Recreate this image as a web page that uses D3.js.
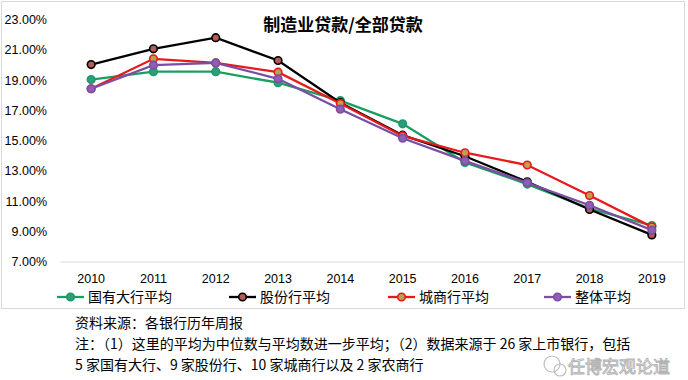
<!DOCTYPE html>
<html><head><meta charset="utf-8">
<script src="https://cdn.jsdelivr.net/npm/d3@7/dist/d3.min.js"></script>
<style>body{margin:0;background:#fff}svg{display:block}</style>
</head><body>
<svg id="c" width="688" height="380"></svg>
<script>
const years = ["2010","2011","2012","2013","2014","2015","2016","2017","2018","2019"];
const yTicks = [7,9,11,13,15,17,19,21,23];
const stateBanks = [19.03,19.55,19.55,18.82,17.64,16.1,13.55,12.12,10.5,9.38];
const jointStock = [20.02,21.06,21.8,20.29,17.5,15.35,13.96,12.27,10.44,8.76];
const cityBanks = [18.42,20.4,20.13,19.52,17.45,15.3,14.19,13.38,11.36,9.29];
const overall = [18.42,19.98,20.13,19.08,17.07,15.15,13.65,12.2,10.72,9.07];
const seriesNames = ["国有大行平均","股份行平均","城商行平均","整体平均"];
const title = "制造业贷款/全部贷款";
const notes = ["资料来源：各银行历年周报",
  "注：（1）这里的平均为中位数与平均数进一步平均；（2）数据来源于 26 家上市银行，包括",
  "5 家国有大行、9 家股份行、10 家城商行以及 2 家农商行"];
const watermark = "任博宏观论道";

const styles = [
  {stroke:"#1a9e5f", fill:"#2f9a88"},
  {stroke:"#000000", fill:"#b55a55"},
  {stroke:"#e8191a", fill:"#b9a14d"},
  {stroke:"#7b4ea3", fill:"#8f5fb5"}
];
const data = [stateBanks, jointStock, cityBanks, overall];

const svg = d3.select("#c");
const cjk = "'Noto Sans CJK SC', sans-serif";
const lat = "'Liberation Sans', Arial, sans-serif";

svg.append("rect").attr("x",1.5).attr("y",1.5).attr("width",683).attr("height",307)
  .attr("fill","#fff").attr("stroke","#d9d9d9").attr("stroke-width",1);

const x = d3.scaleBand().domain(years).range([60,683]);
const y = d3.scaleLinear().domain([7,23]).range([261.5,19.5]);

const xAxis = svg.append("g").attr("transform","translate(0,261.5)")
  .call(d3.axisBottom(x).tickSize(0).tickPadding(13));
xAxis.select(".domain").attr("stroke","#d9d9d9");
xAxis.selectAll("text").attr("font-family",lat).attr("font-size",12.5).attr("fill","#000");

const yAxis = svg.append("g").attr("transform","translate(47,0)")
  .call(d3.axisLeft(y).tickValues(yTicks).tickSize(0).tickPadding(0)
    .tickFormat(d => d3.format(".2f")(d) + "%"));
yAxis.select(".domain").remove();
yAxis.selectAll("text").attr("font-family",lat).attr("font-size",12.5).attr("fill","#000");

svg.append("text").attr("x",343).attr("y",31).attr("text-anchor","middle")
  .attr("font-family",cjk).attr("font-weight","bold").attr("font-size",17).text(title);

const line = d3.line().x((d,i)=>x(years[i])+x.bandwidth()/2).y(d=>y(d));
data.forEach((vals,k)=>{
  const g = svg.append("g");
  g.append("path").datum(vals).attr("d",line).attr("fill","none")
    .attr("stroke",styles[k].stroke).attr("stroke-width",2.3);
  g.selectAll("circle").data(vals).join("circle")
    .attr("cx",(d,i)=>x(years[i])+x.bandwidth()/2).attr("cy",d=>y(d)).attr("r",3.8)
    .attr("fill",styles[k].fill).attr("stroke",styles[k].stroke).attr("stroke-width",1.6);
});

const legX = [57, 229, 388, 544];
seriesNames.forEach((n,k)=>{
  const g = svg.append("g").attr("transform",`translate(${legX[k]},297)`);
  g.append("line").attr("x1",0).attr("x2",27).attr("stroke",styles[k].stroke).attr("stroke-width",2.3);
  g.append("circle").attr("cx",13.5).attr("r",3.8).attr("fill",styles[k].fill)
    .attr("stroke",styles[k].stroke).attr("stroke-width",1.6);
  g.append("text").attr("x",31).attr("y",5).attr("font-family",cjk).attr("font-size",14).text(n);
});

const noteY = [328, 349, 370];
notes.forEach((t,i)=>{
  svg.append("text").attr("x",75).attr("y",noteY[i]).attr("font-family",cjk)
    .attr("font-size",14).attr("fill","#000").text(t);
});

const wm = svg.append("g").attr("opacity",0.75);
wm.append("circle").attr("cx",552).attr("cy",364).attr("r",8).attr("fill","none").attr("stroke","#aaa").attr("stroke-width",1.2);
wm.append("circle").attr("cx",560).attr("cy",370).attr("r",6).attr("fill","none").attr("stroke","#aaa").attr("stroke-width",1.2);
wm.append("text").attr("x",568).attr("y",373).attr("font-family",cjk).attr("font-size",17)
  .attr("fill","#fff").attr("stroke","#999").attr("stroke-width",0.9).text(watermark);
</script>
</body></html>
